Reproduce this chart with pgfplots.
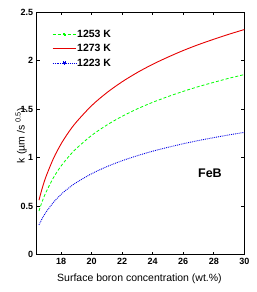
\documentclass[border=0pt]{standalone}
\usepackage{pgfplots}
\pgfplotsset{compat=1.18}
\usepackage{fontspec}
\setmainfont{Liberation Sans}
\definecolor{mgreen}{RGB}{0,255,0}
\definecolor{mred}{RGB}{230,0,0}
\definecolor{mblue}{RGB}{0,0,230}
\pgfplotsset{
  legmark/.style={legend image code/.code={\draw[##1] (0pt,0pt) -- (23pt,0pt);
    \fill[#1] (10.5pt,-1.1pt) rectangle (12.7pt,1.1pt);}},
  legline/.style={legend image code/.code={\draw[##1] (0pt,0pt) -- (23pt,0pt);}},
}
\pgfplotstableread{
C k
16.55 0.448
16.75 0.542
17.0 0.639
17.5 0.793
18.0 0.913
18.5 1.010
19.0 1.093
20.0 1.228
21.0 1.335
22.0 1.425
23.0 1.502
24.0 1.569
25.0 1.628
26.0 1.682
27.0 1.731
28.0 1.775
29.0 1.817
30.0 1.855
}\greendata
\pgfplotstableread{
C k
16.55 0.560
16.75 0.677
17.0 0.799
17.5 0.991
18.0 1.141
18.5 1.263
19.0 1.366
20.0 1.535
21.0 1.669
22.0 1.781
23.0 1.877
24.0 1.961
25.0 2.035
26.0 2.103
27.0 2.164
28.0 2.219
29.0 2.271
30.0 2.319
}\reddata
\pgfplotstableread{
C k
16.55 0.304
16.75 0.368
17.0 0.434
17.5 0.538
18.0 0.620
18.5 0.686
19.0 0.742
20.0 0.833
21.0 0.906
22.0 0.967
23.0 1.019
24.0 1.065
25.0 1.105
26.0 1.142
27.0 1.175
28.0 1.205
29.0 1.233
30.0 1.259
}\bluedata
\begin{document}
\begin{tikzpicture}
\begin{axis}[
  scale only axis,
  width=207.6pt, height=242.5pt,
  at={(0,0)}, anchor=south west,
  xmin=16.4, xmax=30, ymin=0, ymax=2.5,
  xtick={18,20,...,30}, ytick={0,0.5,1,1.5,2,2.5},
  yticklabels={0,0.5,1,1.5,2,2.5},
  tick align=inside, tick pos=both,
  major tick length=3pt,
  axis line style={line width=0.8pt},
  tick style={black, line width=0.6pt},
  /pgf/number format/assume math mode=true,
  ticklabel style={font=\fontsize{9}{10}\selectfont\bfseries},
  xlabel={Surface boron concentration (wt.\%)},
  ylabel={k (µm /s \textsuperscript{0.5})},
  label style={font=\fontsize{10.5}{12}\selectfont},
  xlabel style={at={(axis description cs:0.495,-0.102)}, anchor=center},
  ylabel style={at={(axis description cs:-0.075,0.49)}, anchor=center},
  legend style={draw=none, fill=none, at={(0.074,0.934)}, anchor=north west,
    font=\fontsize{10.5}{12}\selectfont\bfseries, row sep=2.4pt,
    inner sep=0pt, nodes={inner sep=1pt, text height=8pt, text depth=2pt}},
  legend cell align=left,
]
\addplot[mgreen, densely dashed, line width=0.8pt, smooth, legmark=mgreen]
  table[x=C,y=k] {\greendata};
\addlegendentry{1253 K}
\addplot[mred, solid, line width=0.9pt, smooth, legline]
  table[x=C,y=k] {\reddata};
\addlegendentry{1273 K}
\addplot[mblue, densely dotted, line width=0.9pt, smooth, legmark=mblue]
  table[x=C,y=k] {\bluedata};
\addlegendentry{1223 K}
\node[font=\fontsize{12.5}{14}\selectfont\bfseries] at (axis cs:27.75,0.84) {FeB};
\end{axis}
\pgfresetboundingbox
\path (-36.7pt,-37.5pt) rectangle (220.3pt,254.5pt);
\end{tikzpicture}
\end{document}
